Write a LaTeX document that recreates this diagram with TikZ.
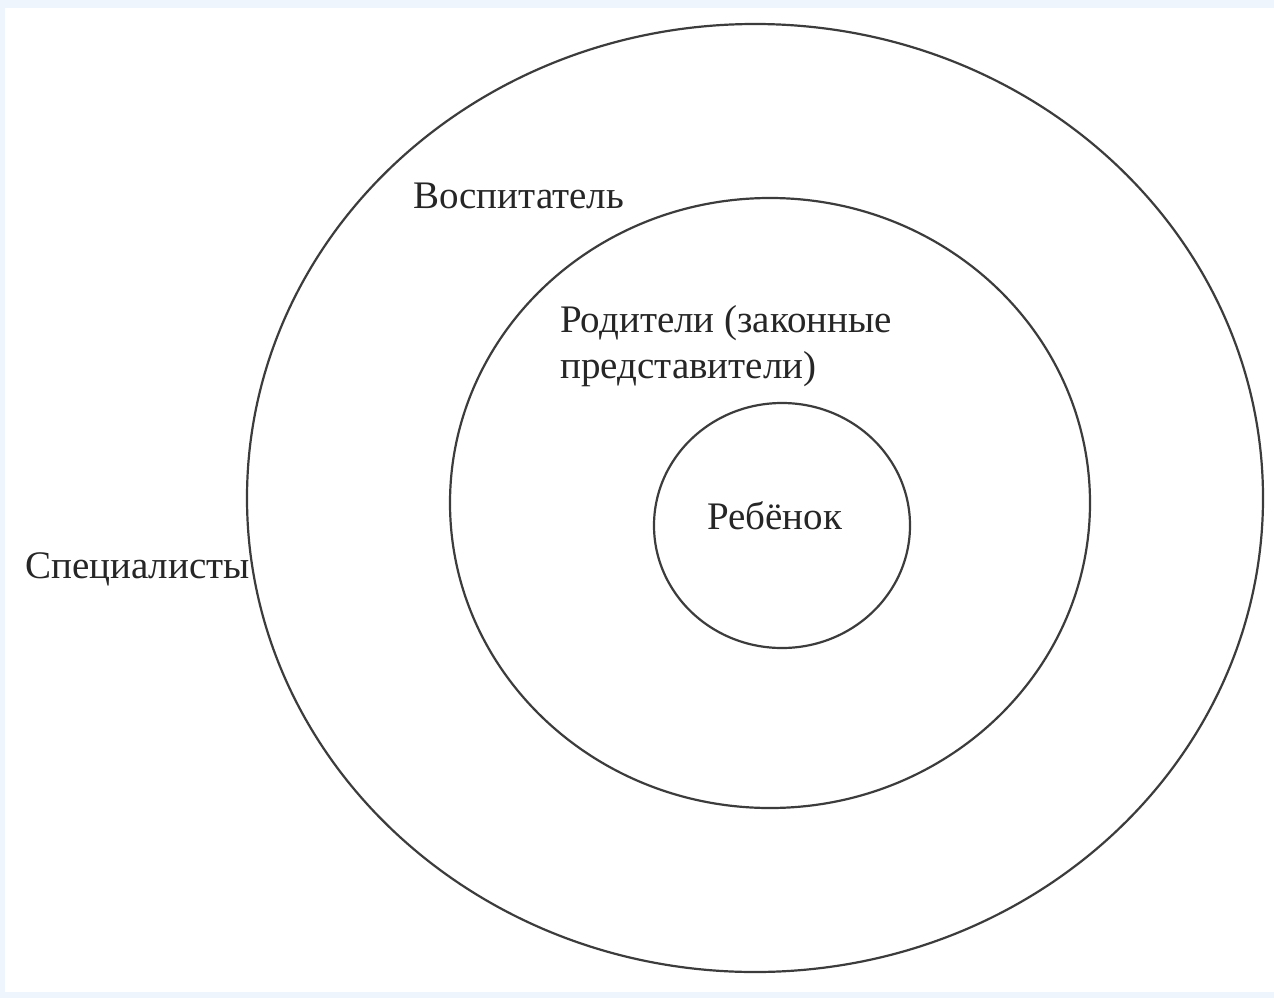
\documentclass[tikz,border=0pt]{standalone}
\usepackage{fontspec}
\setmainfont{Liberation Serif}
\usetikzlibrary{shapes.geometric}
\definecolor{frameblue}{HTML}{EEF5FD}
\definecolor{ringgray}{HTML}{3C3C3C}
\tikzset{
  ring/.style={ellipse,draw=ringgray,line width=2.2pt,inner sep=0pt},
  lbl/.style={inner sep=0pt,anchor=base west,font=\fontsize{39}{46}\selectfont,text=black!85}
}
\begin{document}
\begin{tikzpicture}[x=1pt,y=-1pt]
\useasboundingbox (0,0) rectangle (1274,998);
\fill[color=frameblue] (0,0) rectangle (1274,998);
\fill[color=white] (5,8) rectangle (1274,992);
\node[ring,minimum width=1016pt,minimum height=948pt] (specialists) at (755,498) {};
\node[ring,minimum width=640pt,minimum height=610pt] (parents) at (770,503) {};
\node[ring,minimum width=256pt,minimum height=245pt] (child) at (782,525.5) {};
\node[lbl] (educatorlbl) at (413,208) {Воспитатель};
\node[lbl,align=left] (parentslbl) at (560,378) {Родители (законные\\представители)};
\node[lbl] (childlbl) at (707,529) {Ребёнок};
\node[lbl] (specialistslbl) at (25,578) {Специалисты};
\end{tikzpicture}
\end{document}
